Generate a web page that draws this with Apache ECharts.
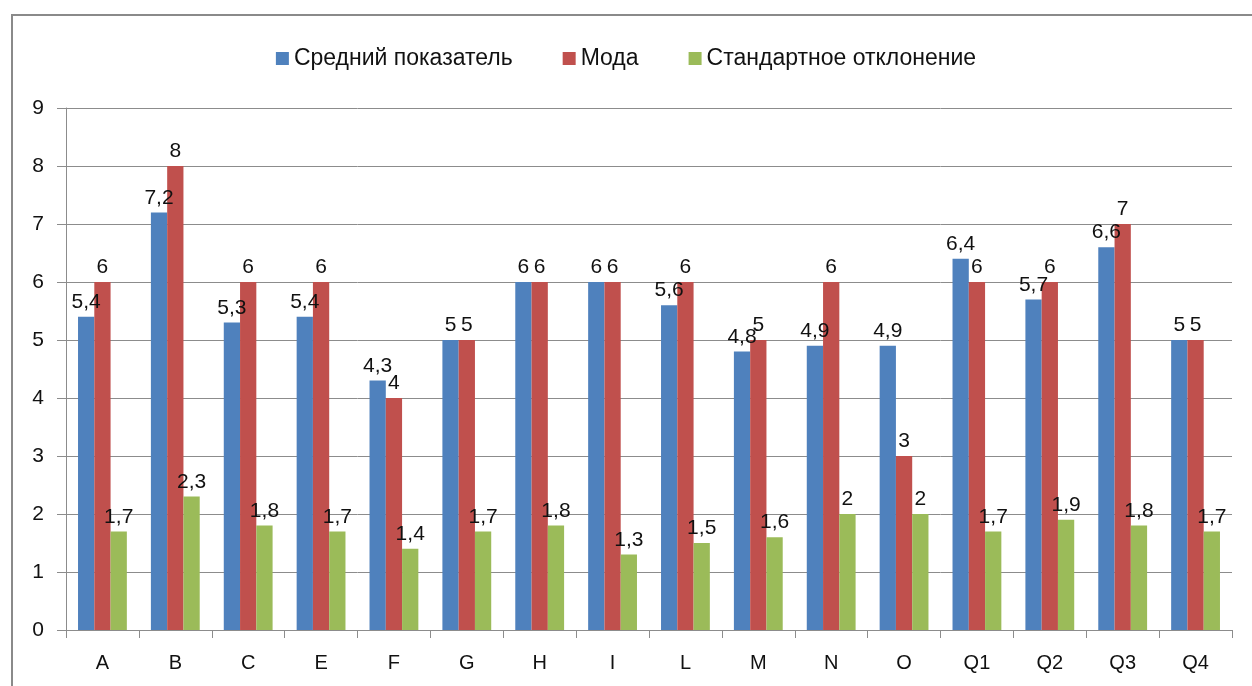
<!DOCTYPE html>
<html>
<head>
<meta charset="utf-8">
<script src="https://cdn.jsdelivr.net/npm/echarts@6/dist/echarts.min.js"></script>
<style>
  html, body { margin: 0; padding: 0; background: #fff; }
  #container { width: 1252px; height: 686px; }
</style>
</head>
<body>
<div id="container"></div>
<script>
var categories = ['A', 'B', 'C', 'E', 'F', 'G', 'H', 'I', 'L', 'M', 'N', 'O', 'Q1', 'Q2', 'Q3', 'Q4'];
var seriesNames = ['Средний показатель', 'Мода', 'Стандартное отклонение'];
var meanValues = [5.4, 7.2, 5.3, 5.4, 4.3, 5, 6, 6, 5.6, 4.8, 4.9, 4.9, 6.4, 5.7, 6.6, 5];
var modeValues = [6, 8, 6, 6, 4, 5, 6, 6, 6, 5, 6, 3, 6, 6, 7, 5];
var stdValues = [1.7, 2.3, 1.8, 1.7, 1.4, 1.7, 1.8, 1.3, 1.5, 1.6, 2, 2, 1.7, 1.9, 1.8, 1.7];
var yTicks = [0, 1, 2, 3, 4, 5, 6, 7, 8, 9];

var colors = ['#4F81BD', '#C0504D', '#9BBB59'];
var font = '"Liberation Sans", "Noto Sans", sans-serif';

var dom = document.getElementById('container');
var myChart = echarts.init(dom);

function makeSeries(name, data, color) {
    return {
        name: name,
        type: 'bar',
        data: data,
        barGap: '0%',
        barCategoryGap: '33%',
        itemStyle: { color: color },
        label: {
            show: true,
            position: 'top',
            distance: 4,
            color: '#111',
            fontFamily: font,
            fontSize: 21,
            // запятая как десятичный разделитель
            formatter: function (p) { return String(p.value).replace('.', ','); }
        }
    };
}

var option = {
    animation: false,
    textStyle: { fontFamily: font },
    color: colors,
    graphic: [{
        type: 'rect',
        shape: { x: 12, y: 15, width: 1400, height: 800 },
        style: { fill: 'none', stroke: '#8a8a8a', lineWidth: 2 },
        z: -1
    }],
    legend: {
        top: 42,
        left: 'center',
        itemWidth: 13,
        itemHeight: 13,
        itemGap: 50,
        icon: 'rect',
        textStyle: { fontSize: 23, color: '#111', fontFamily: font },
        data: seriesNames
    },
    grid: { left: 66, right: 20, top: 108, bottom: 56 },
    xAxis: {
        type: 'category',
        data: categories,
        axisLine: { lineStyle: { color: '#8c8c8c', width: 1 } },
        axisTick: { show: true, length: 8, lineStyle: { color: '#8c8c8c' } },
        axisLabel: { color: '#111', fontSize: 20, margin: 23, fontFamily: font }
    },
    yAxis: {
        type: 'value',
        min: yTicks[0],
        max: yTicks[yTicks.length - 1],
        interval: 1,
        axisLine: { show: true, lineStyle: { color: '#8c8c8c' } },
        axisTick: { show: true, length: 9, lineStyle: { color: '#8c8c8c' } },
        axisLabel: { color: '#111', fontSize: 21, margin: 22, fontFamily: font },
        splitLine: { lineStyle: { color: '#8c8c8c', width: 1 } }
    },
    series: [
        makeSeries(seriesNames[0], meanValues, colors[0]),
        makeSeries(seriesNames[1], modeValues, colors[1]),
        makeSeries(seriesNames[2], stdValues, colors[2])
    ]
};
myChart.setOption(option, true);
</script>
</body>
</html>
